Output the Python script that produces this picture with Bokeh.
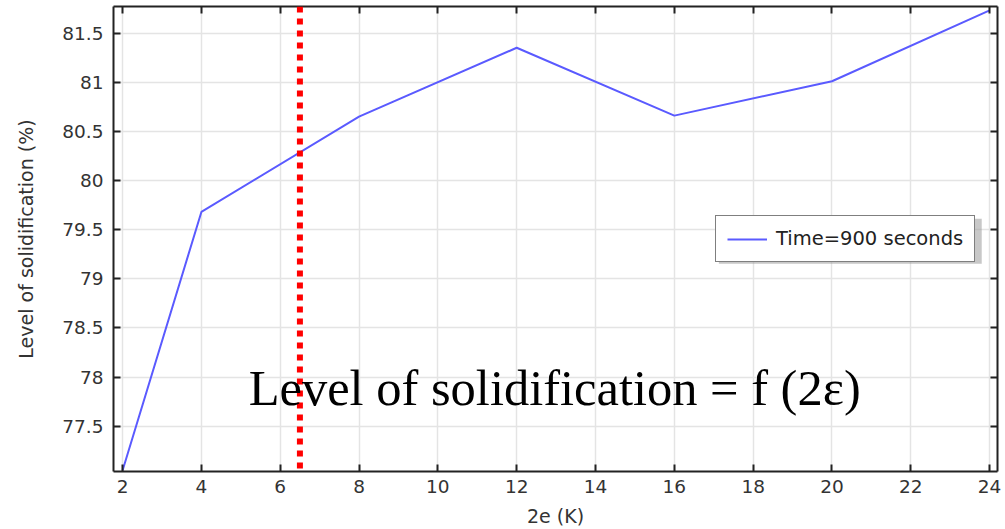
from bokeh.plotting import figure
from bokeh.models import (LinearAxis, FixedTicker, Span, Label, Legend, LegendItem,
                          Range1d, BoxAnnotation, CustomLabelingPolicy)
from bokeh.embed import file_html
from bokeh.resources import INLINE

# Data: level of solidification after 900 s versus the 2e parameter
two_e = [2, 4, 8, 12, 16, 20, 24]
solidification = [77.05, 79.68, 80.65, 81.35, 80.66, 81.01, 81.73]
series_label = "Time=900 seconds"

x_ticks = [2, 4, 6, 8, 10, 12, 14, 16, 18, 20, 22, 24]
y_ticks = [77.5, 78, 78.5, 79, 79.5, 80, 80.5, 81, 81.5]
y_tick_labels = ["77.5", "78", "78.5", "79", "79.5", "80", "80.5", "81", "81.5"]

marker_x = 6.5
formula_text = "Level of solidification = f (2ε)"

TICK_FONT = "DejaVu Sans"
TEXT_COLOR = "#333333"

p = figure(width=1005, height=529, output_backend="svg", toolbar_location=None,
           x_range=Range1d(1.77, 24.2), y_range=Range1d(77.04, 81.77),
           min_border_left=113, min_border_right=8, min_border_top=6,
           min_border_bottom=57, x_axis_label="2e (K)",
           y_axis_label="Level of solidification (%)")
p.outline_line_color = None
p.background_fill_color = "white"

for ax in (p.xaxis[0], p.yaxis[0]):
    ax.major_tick_in = 7
    ax.major_tick_out = 0
    ax.minor_tick_in = 0
    ax.minor_tick_out = 0
    ax.axis_line_color = "#222222"
    ax.axis_line_width = 2
    ax.major_tick_line_color = "#222222"
    ax.major_tick_line_width = 2
    ax.major_label_text_font = TICK_FONT
    ax.major_label_text_font_size = "18.5px"
    ax.major_label_text_color = TEXT_COLOR
    ax.axis_label_text_font = TICK_FONT
    ax.axis_label_text_font_size = "19px"
    ax.axis_label_text_font_style = "normal"
    ax.axis_label_text_color = TEXT_COLOR

p.xaxis[0].ticker = FixedTicker(ticks=x_ticks)
p.yaxis[0].ticker = FixedTicker(ticks=y_ticks)
p.yaxis[0].major_label_overrides = {v: s for v, s in zip(y_ticks, y_tick_labels)}
p.xaxis[0].major_label_standoff = 8
p.xaxis[0].axis_label_standoff = 9
p.yaxis[0].major_label_standoff = 10
p.yaxis[0].axis_label_standoff = 22

# Mirror axes on top and right: inward ticks only, every label filtered out
hide_labels = CustomLabelingPolicy(
    code="for (let i = 0; i < indices.size; i++) { indices.unset(i) } return indices")
for side, ticks in (("above", x_ticks), ("right", y_ticks)):
    ax = LinearAxis(ticker=FixedTicker(ticks=ticks), major_tick_in=7, major_tick_out=0,
                    minor_tick_in=0, minor_tick_out=0, major_label_policy=hide_labels,
                    major_label_text_font_size="1px",
                    major_label_standoff=0, axis_line_color="#222222", axis_line_width=2,
                    major_tick_line_color="#222222", major_tick_line_width=2)
    p.add_layout(ax, side)

p.xgrid.ticker = FixedTicker(ticks=x_ticks)
p.ygrid.ticker = FixedTicker(ticks=y_ticks)
p.grid.grid_line_color = "#e4e4e4"
p.grid.grid_line_width = 1.5

line = p.line(two_e, solidification, line_color="#5a5aff", line_width=2)

p.add_layout(Span(location=marker_x, dimension="height", line_color="red",
                  line_width=6, line_dash="6 6"))

p.add_layout(Label(x=5.2, y=77.89, text=formula_text, text_font="Liberation Serif",
                   text_font_size="50.5px", text_color="black",
                   text_baseline="alphabetic"))

# Soft drop shadow behind the legend box
p.add_layout(BoxAnnotation(left=17.13, right=23.8, top=79.61, bottom=79.154,
                           fill_color="#9a9a9a", fill_alpha=0.55, line_color=None))

legend = Legend(items=[LegendItem(label=series_label, renderers=[line])],
                location=(602, 209), orientation="vertical",
                border_line_color="black", border_line_width=1.2,
                background_fill_color="white", background_fill_alpha=1.0,
                label_text_font=TICK_FONT, label_text_font_size="19.5px",
                label_text_color="#222222", glyph_width=40, glyph_height=20,
                label_height=20, label_standoff=9, padding=11, margin=0)
p.add_layout(legend, "center")

open("out.html", "w").write(file_html(p, INLINE))
